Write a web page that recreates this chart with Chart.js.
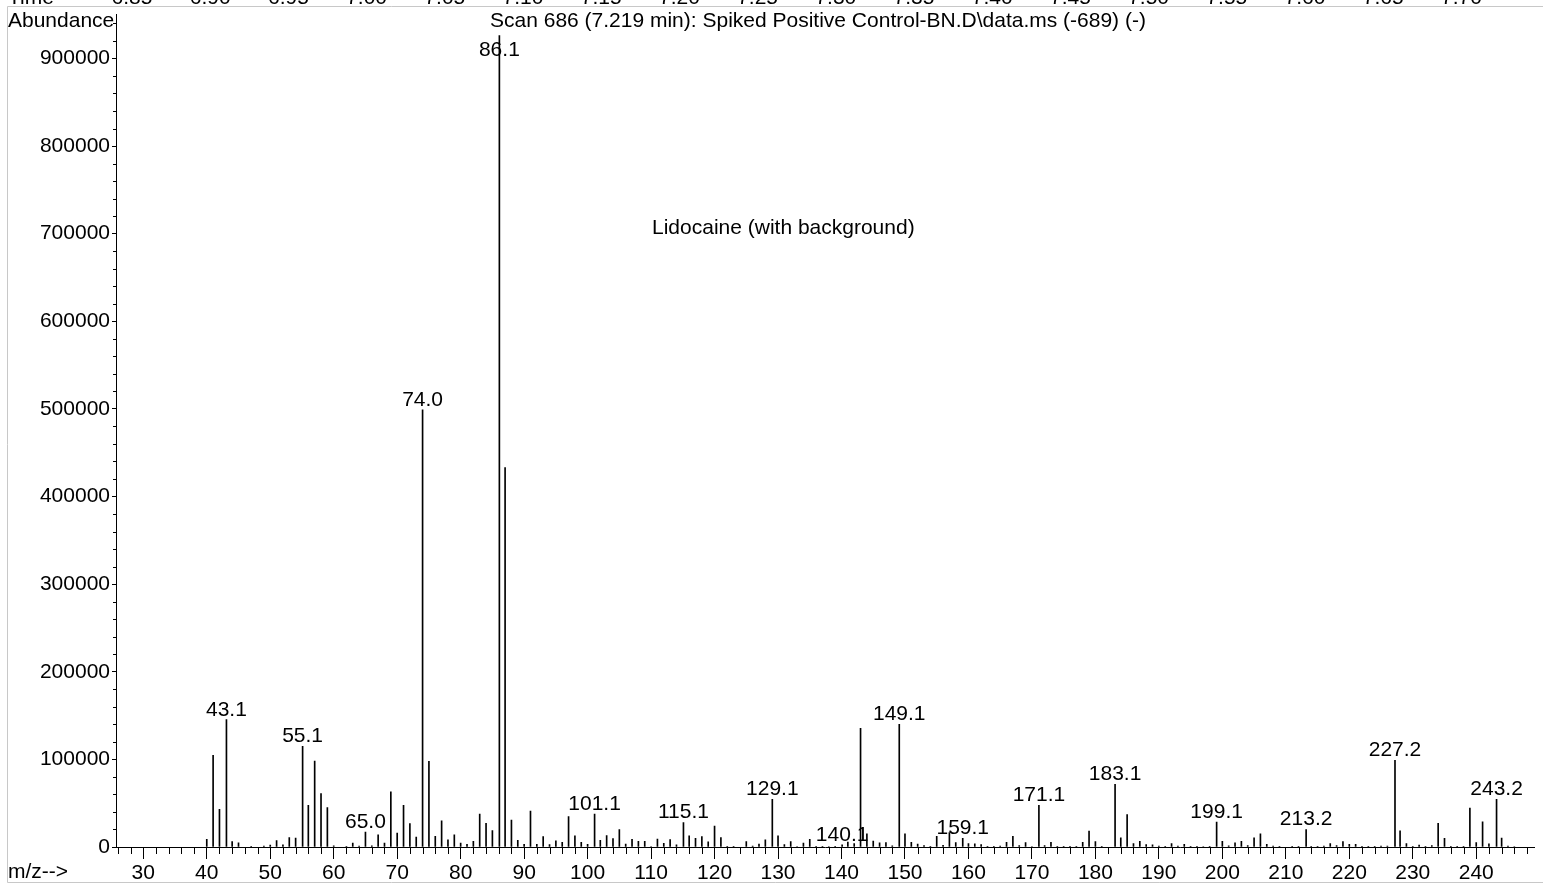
<!DOCTYPE html>
<html>
<head>
<meta charset="utf-8">
<title>Scan 686 - Lidocaine (with background)</title>
<script src="https://cdn.jsdelivr.net/npm/chart.js@4.4.1/dist/chart.umd.min.js"></script>
<style>
  html, body { margin: 0; padding: 0; background: #fff; }
  canvas { display: block; }
</style>
</head>
<body>
<canvas id="spectrumChart" width="1543" height="888"></canvas>
<script>
// m/z of each stick (labelled peaks keep their centroid value)
var mz = [
  40, 41, 42, 43.1, 44, 45, 47, 49, 50, 51,
  52, 53, 54, 55.1, 56, 57, 58, 59, 60, 62,
  63, 64, 65.0, 66, 67, 68, 69, 70, 71, 72,
  73, 74.0, 75, 76, 77, 78, 79, 80, 81, 82,
  83, 84, 85, 86.1, 87, 88, 89, 90, 91, 92,
  93, 94, 95, 96, 97, 98, 99, 100, 101.1, 102,
  103, 104, 105, 106, 107, 108, 109, 110, 111, 112,
  113, 114, 115.1, 116, 117, 118, 119, 120, 121, 122,
  123, 125, 126, 127, 128, 129.1, 130, 131, 132, 133,
  134, 135, 136, 137, 138, 139, 140.1, 141, 142, 143,
  144, 145, 146, 147, 148, 149.1, 150, 151, 152, 153,
  154, 155, 156, 157, 158, 159.1, 160, 161, 162, 163,
  164, 165, 166, 167, 168, 169, 170, 171.1, 172, 173,
  174, 175, 176, 177, 178, 179, 180, 181, 183.1, 184,
  185, 186, 187, 188, 189, 190, 191, 192, 193, 194,
  195, 196, 197, 198, 199.1, 200, 201, 202, 203, 204,
  205, 206, 207, 208, 209, 211, 212, 213.2, 214, 215,
  216, 217, 218, 219, 220, 221, 222, 223, 224, 225,
  226, 227.2, 228, 229, 230, 231, 232, 233, 234, 235,
  236, 237, 238, 239, 240, 241, 242, 243.2, 244, 245,
  246
];

var abundance = [
  8700, 104500, 43000, 145500, 6200, 4700, 800, 1000, 2300, 7400,
  2500, 10800, 10200, 115000, 47500, 98000, 61000, 45000, 1200, 500,
  4400, 1000, 17000, 1200, 14000, 4400, 63000, 16000, 47500, 26600,
  11400, 499000, 97700, 12300, 30000, 8200, 14000, 4500, 3000, 6600,
  37600, 27000, 18800, 926000, 433000, 30800, 7600, 3000, 41000, 3000,
  12000, 2700, 7000, 5200, 34600, 12800, 5300, 3000, 37600, 7600,
  12900, 9500, 20000, 3400, 8700, 6400, 6400, 600, 9100, 4300,
  8400, 2400, 28000, 12700, 9900, 12000, 5900, 23800, 10800, 500,
  400, 6100, 1100, 3200, 8200, 54500, 12700, 2800, 6100, 600,
  4500, 8700, 500, 700, 600, 900, 2500, 5500, 4000, 135500,
  15000, 6800, 4700, 5100, 1200, 140000, 15000, 5200, 3200, 1500,
  400, 12200, 1800, 16500, 5000, 10000, 3800, 3600, 2800, 400,
  900, 1100, 5300, 12200, 1500, 5000, 600, 47500, 1500, 5200,
  500, 900, 900, 400, 5300, 18200, 6100, 300, 71500, 10600,
  36900, 3800, 6500, 2900, 2400, 1100, 300, 3800, 1000, 3000,
  700, 800, 600, 400, 28500, 6400, 1400, 4800, 6400, 1700,
  10500, 15100, 3000, 1100, 400, 800, 500, 20000, 400, 900,
  1000, 3800, 1500, 6200, 3000, 3000, 400, 300, 500, 1100,
  1000, 98800, 18500, 4000, 500, 2300, 800, 1500, 27000, 10000,
  400, 300, 500, 44300, 5000, 28800, 3500, 54500, 10200, 1000,
  600
];

// peaks that get an m/z label above them
var labeledPeaks = [43.1, 55.1, 65.0, 74.0, 86.1, 101.1, 115.1, 129.1, 140.1,
  149.1, 159.1, 171.1, 183.1, 199.1, 213.2, 227.2, 243.2];

// axis tick values
var xTicks = [30, 40, 50, 60, 70, 80, 90, 100, 110, 120, 130, 140, 150, 160, 170,
  180, 190, 200, 210, 220, 230, 240];
var yTicks = [0, 100000, 200000, 300000, 400000, 500000, 600000, 700000, 800000, 900000];

// time axis of the TIC panel above (cut off at the top edge)
var timeLabels = ['6.85', '6.90', '6.95', '7.00', '7.05', '7.10', '7.15', '7.20', '7.25',
  '7.30', '7.35', '7.40', '7.45', '7.50', '7.55', '7.60', '7.65', '7.70'];

var titleText = 'Scan 686 (7.219 min): Spiked Positive Control-BN.D\\data.ms (-689) (-)';
var noteText = 'Lidocaine (with background)';

var FONT = "21px 'Liberation Sans', Arial, sans-serif";
Chart.defaults.font.family = "'Liberation Sans', Arial, sans-serif";
Chart.defaults.font.size = 21;
Chart.defaults.color = '#000';

function abundanceAt(m) {
  var i = mz.indexOf(m);
  return i < 0 ? 0 : abundance[i];
}

function fixedTicks(values) {
  return function(scale) {
    scale.ticks = values.map(function(v) { return {value: v}; });
  };
}

var spectrumDecor = {
  id: 'spectrumDecor',
  beforeDraw: function(chart) {
    var ctx = chart.ctx;
    ctx.save();
    ctx.fillStyle = '#fff';
    ctx.fillRect(0, 0, chart.width, chart.height);
    // grey panel frame
    ctx.strokeStyle = '#c8c8c8';
    ctx.lineWidth = 1;
    ctx.beginPath();
    ctx.moveTo(chart.width, 6.5);
    ctx.lineTo(7.5, 6.5);
    ctx.lineTo(7.5, 882.5);
    ctx.lineTo(chart.width, 882.5);
    ctx.stroke();
    ctx.restore();
  },
  afterDraw: function(chart) {
    var ctx = chart.ctx;
    var xs = chart.scales.x, ys = chart.scales.y;
    var area = chart.chartArea;
    ctx.save();

    // minor ticks
    ctx.strokeStyle = '#000';
    ctx.lineWidth = 1;
    ctx.beginPath();
    for (var m = 26; m <= xs.max; m += 2) {
      if (m % 10 === 0) continue;
      var px = Math.round(xs.getPixelForValue(m)) + 0.5;
      ctx.moveTo(px, area.bottom);
      ctx.lineTo(px, area.bottom + 7);
    }
    for (var v = 20000; v <= ys.max; v += 20000) {
      if (v % 100000 === 0) continue;
      var py = Math.round(ys.getPixelForValue(v)) + 0.5;
      ctx.moveTo(area.left, py);
      ctx.lineTo(area.left - 3, py);
    }
    ctx.stroke();

    ctx.fillStyle = '#000';
    ctx.font = FONT;
    ctx.textBaseline = 'alphabetic';

    // peak labels
    ctx.textAlign = 'center';
    for (var i = 0; i < labeledPeaks.length; i++) {
      var p = labeledPeaks[i];
      var lx = xs.getPixelForValue(p);
      var top = ys.getPixelForValue(abundanceAt(p));
      var base = Math.max(top - 4, area.top + 41);
      ctx.fillText(p.toFixed(1), lx, base);
    }

    // header texts
    ctx.textAlign = 'left';
    ctx.fillText('Abundance', 8, 27);
    ctx.fillText(titleText, 490, 27);
    ctx.fillText(noteText, 652, 234);
    ctx.fillText('m/z-->', 8, 878);

    // cut-off time row
    ctx.fillText('Time', 8, 4);
    ctx.textAlign = 'center';
    for (var k = 0; k < timeLabels.length; k++) {
      ctx.fillText(timeLabels[k], 132 + k * 78.2, 4);
    }
    ctx.restore();
  }
};

var points = [];
for (var j = 0; j < mz.length; j++) {
  points.push({x: mz[j], y: abundance[j]});
}

new Chart(document.getElementById('spectrumChart'), {
  type: 'bar',
  data: {
    datasets: [{
      data: points,
      backgroundColor: '#000',
      borderWidth: 0,
      barThickness: 1,
      grouped: false
    }]
  },
  options: {
    responsive: false,
    animation: false,
    events: [],
    layout: { padding: { top: 11, right: 9, left: 0, bottom: 0 } },
    plugins: { legend: { display: false }, tooltip: { enabled: false }, title: { display: false } },
    scales: {
      x: {
        type: 'linear',
        min: 25.7,
        max: 249.1,
        offset: false,
        grid: { offset: false, drawOnChartArea: false, drawTicks: true, tickLength: 12, color: '#000' },
        border: { display: true, color: '#000', width: 1 },
        ticks: {
          autoSkip: false,
          maxRotation: 0,
          padding: 2,
          color: '#000',
          callback: function(v) { return String(v); }
        },
        afterBuildTicks: fixedTicks(xTicks),
        afterFit: function(scale) { scale.height = 41; }
      },
      y: {
        min: 0,
        max: 950000,
        grid: { drawOnChartArea: false, drawTicks: true, tickLength: 4, color: '#000' },
        border: { display: true, color: '#000', width: 1 },
        ticks: {
          autoSkip: false,
          padding: 2,
          color: '#000',
          callback: function(v) { return String(v); }
        },
        afterBuildTicks: fixedTicks(yTicks),
        afterFit: function(scale) { scale.width = 116; }
      }
    }
  },
  plugins: [spectrumDecor]
});
</script>
</body>
</html>
